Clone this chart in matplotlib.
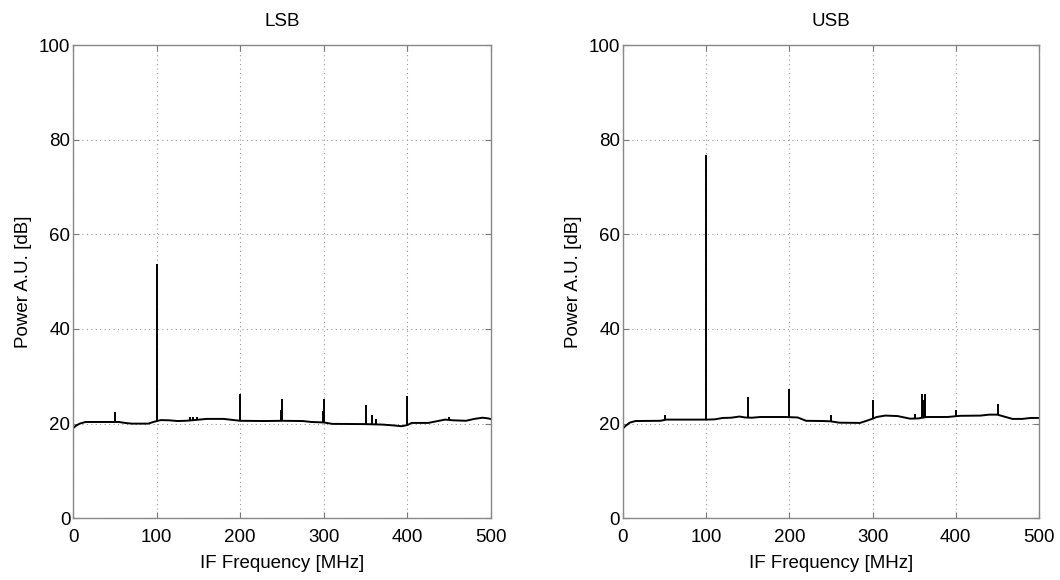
import numpy as np
import matplotlib
matplotlib.use("Agg")
import matplotlib.pyplot as plt

plt.rcParams['font.family'] = ['Liberation Sans', 'DejaVu Sans']

# ---- data ----
lsb_base_f = [0, 3, 8, 15, 55, 62, 70, 90, 97, 105, 115, 125, 135, 145, 160, 180, 190, 200,
              230, 250, 275, 285, 300, 310, 350, 370, 385, 393, 400, 405, 425, 435, 445, 455,
              470, 480, 490, 497, 500]
lsb_base_db = [19.0, 19.5, 20.0, 20.35, 20.35, 20.15, 20.0, 20.0, 20.4, 20.75, 20.7, 20.55, 20.6,
               20.75, 21.0, 21.0, 20.8, 20.6, 20.55, 20.6, 20.55, 20.35, 20.25, 19.95, 19.9, 19.8,
               19.6, 19.45, 19.7, 20.15, 20.15, 20.5, 20.85, 20.7, 20.6, 21.0, 21.25, 21.1, 20.95]
lsb_spike_f = [50, 100, 140, 143, 148, 200, 249, 250, 299, 300, 350, 358, 363, 400, 450]
lsb_spike_db = [22.4, 53.8, 21.3, 21.5, 21.4, 26.3, 22.8, 25.2, 22.6, 25.1, 24.0, 21.9, 21.0, 25.8, 21.4]

usb_base_f = [0, 3, 8, 15, 45, 52, 100, 110, 120, 130, 140, 147, 155, 165, 195, 210, 220, 240,
              249, 260, 285, 297, 305, 315, 330, 345, 355, 365, 390, 405, 430, 440, 450, 458,
              468, 480, 490, 500]
usb_base_db = [19.0, 19.5, 20.2, 20.55, 20.6, 20.85, 20.85, 20.9, 21.2, 21.25, 21.5, 21.3, 21.25,
               21.4, 21.4, 21.3, 20.6, 20.55, 20.5, 20.2, 20.15, 20.85, 21.4, 21.7, 21.6, 21.05,
               21.1, 21.4, 21.4, 21.65, 21.7, 21.9, 21.9, 21.5, 21.0, 21.0, 21.2, 21.2]
usb_spike_f = [50, 100, 150, 200, 250, 300, 351, 359, 361, 363, 400, 451]
usb_spike_db = [21.9, 76.8, 25.6, 27.3, 21.9, 24.9, 22.1, 26.3, 25.0, 26.3, 22.8, 24.1]

titles = ["LSB", "USB"]
x_ticks = [0, 100, 200, 300, 400, 500]
y_ticks = [0, 20, 40, 60, 80, 100]

fig = plt.figure(figsize=(10.6, 5.8), dpi=100)
ax1 = fig.add_axes([0.0689, 0.1064, 0.3943, 0.816])
ax2 = fig.add_axes([0.5877, 0.1064, 0.3925, 0.816])

datasets = [(lsb_base_f, lsb_base_db, lsb_spike_f, lsb_spike_db),
            (usb_base_f, usb_base_db, usb_spike_f, usb_spike_db)]

for ax, title, (bf, bd, sf, sd) in zip([ax1, ax2], titles, datasets):
    ax.plot(bf, bd, color='black', lw=1.4, solid_joinstyle='round')
    base_at_spike = np.interp(sf, bf, bd)
    ax.vlines(sf, base_at_spike, sd, color='black', lw=1.4)
    ax.set_xlim(0, 500)
    ax.set_ylim(0, 100)
    ax.set_xticks(x_ticks)
    ax.set_yticks(y_ticks)
    ax.grid(True, linestyle=(0, (1, 3)), color='#999999', lw=0.8)
    ax.tick_params(direction='in', length=4, width=0.8, color='#777777',
                   labelsize=13.5, top=True, right=True)
    ax.tick_params(axis='x', pad=8)
    ax.tick_params(axis='y', pad=2)
    for s in ax.spines.values():
        s.set_color('#888888')
        s.set_linewidth(1.0)
    ax.set_title(title, fontsize=13.5, pad=14)
    ax.set_xlabel("IF Frequency [MHz]", fontsize=13.5, labelpad=6)
    ax.set_ylabel("Power A.U. [dB]", fontsize=13.5, labelpad=5)

fig.savefig("out.png", dpi=100)
